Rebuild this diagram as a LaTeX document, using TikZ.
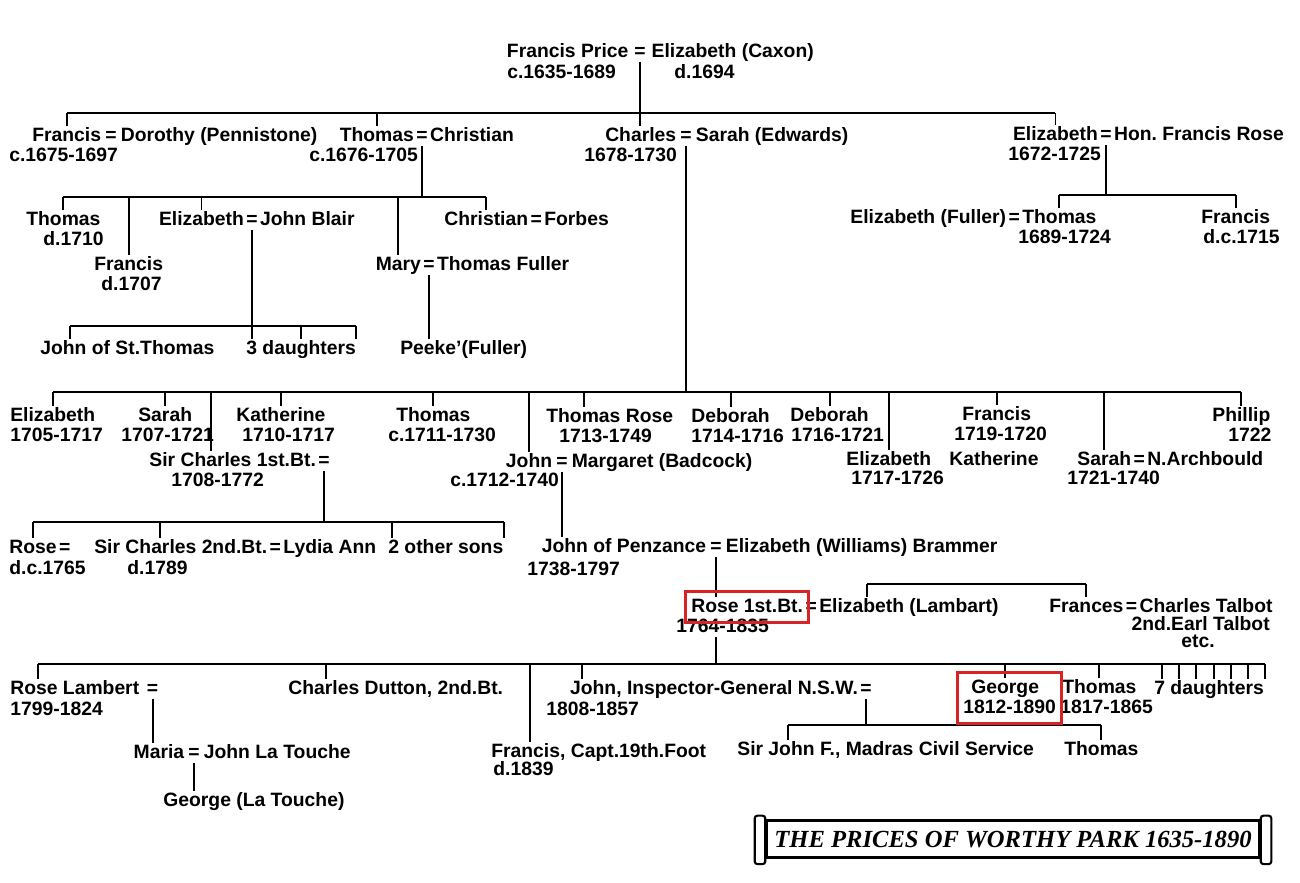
\documentclass[tikz,border=0pt]{standalone}
\usepackage{fontspec}
\setmainfont{Liberation Sans}
\newfontfamily\titlefont{Liberation Serif}
\usepackage{tikz}
\usetikzlibrary{positioning,calc,fit}
\definecolor{boxred}{RGB}{215,35,35}
\tikzset{
  pname/.style={font=\fontsize{11}{13}\selectfont\bfseries,inner sep=0pt,
                anchor=west,text height=1.6ex,text depth=0.45ex},
  eqs/.style={pname,anchor=center,inner xsep=1pt},
  bar/.style={line width=1.5pt},
  drop/.style={line width=1.1pt},
  redbox/.style={draw=boxred,line width=1.6pt,inner xsep=3pt,inner ysep=3pt},
  banner/.style={draw,line width=1.5pt,minimum width=9.86cm,minimum height=0.74cm,
                 inner sep=0pt,font=\titlefont\fontsize{14}{16}\selectfont\bfseries\itshape},
  roll/.style={draw,line width=1.2pt,fill=white,rounded corners=1.5pt},
}

\begin{document}
\begin{tikzpicture}[x=0.02cm,y=-0.02cm]
  \useasboundingbox (0,0) rectangle (1300,882);
  % Francis Price and Elizabeth (Caxon)
  \node[eqs] (fPriceEq) at (640,52) {=};
  \node[pname,left=2pt of fPriceEq] (fPrice) {Francis Price};
  \node[pname,right=2pt of fPriceEq] (eCaxon) {Elizabeth (Caxon)};
  \node[pname] (fPriceD) at (507,73) {c.1635-1689};
  \node[pname] (eCaxonD) at (674,73) {d.1694};

  % Their children
  \node[pname] (francis) at (32,136) {Francis};
  \node[eqs,right=1pt of francis] (francisEq) {=};
  \node[pname,right=1pt of francisEq] (dorothy) {Dorothy (Pennistone)};
  \node[pname] (francisD) at (9,156) {c.1675-1697};
  \node[eqs] (thomasEq) at (422,136) {=};
  \node[pname,left=0pt of thomasEq] (thomas) {Thomas};
  \node[pname,right=0pt of thomasEq] (christian) {Christian};
  \node[pname] (thomasD) at (309,156) {c.1676-1705};
  \node[eqs] (charlesEq) at (686,136) {=};
  \node[pname,left=1pt of charlesEq] (charles) {Charles};
  \node[pname,right=1pt of charlesEq] (sarahE) {Sarah (Edwards)};
  \node[pname] (charlesD) at (584,156) {1678-1730};
  \node[eqs] (elizEq) at (1106,135) {=};
  \node[pname,left=0pt of elizEq] (eliz) {Elizabeth};
  \node[pname,right=0pt of elizEq] (hfRose) {Hon.\ Francis Rose};
  \node[pname] (elizD) at (1008,155) {1672-1725};

  % Children of Thomas
  \node[pname] (thomasT) at (26,220) {Thomas};
  \node[pname] (thomasTD) at (43,240) {d.1710};
  \node[pname] (francisT) at (94,265) {Francis};
  \node[pname] (francisTD) at (101,285) {d.1707};
  \node[eqs] (elizTEq) at (252,220) {=};
  \node[pname,left=0pt of elizTEq] (elizT) {Elizabeth};
  \node[pname,right=0pt of elizTEq] (jBlair) {John Blair};
  \node[eqs] (maryTEq) at (429,265) {=};
  \node[pname,left=0pt of maryTEq] (maryT) {Mary};
  \node[pname,right=0pt of maryTEq] (tFuller) {Thomas Fuller};
  \node[pname] (christianT) at (444,220) {Christian};
  \node[eqs,right=0pt of christianT] (christianTEq) {=};
  \node[pname,right=0pt of christianTEq] (forbes) {Forbes};
  \node[pname] (johnStT) at (40,349) {John of St.Thomas};
  \node[pname] (daughtersB) at (246,349) {3 daughters};
  \node[pname] (peeke) at (400,349) {Peeke'(Fuller)};

  % Children of Elizabeth and Francis Rose
  \node[pname] (thomasR) at (1022,218) {Thomas};
  \node[eqs,left=0pt of thomasR] (elizFullerEq) {=};
  \node[pname,left=0pt of elizFullerEq] (elizFuller) {Elizabeth (Fuller)};
  \node[pname] (thomasRD) at (1018,238) {1689-1724};
  \node[pname] (francisR) at (1201,218) {Francis};
  \node[pname] (francisRD) at (1203,238) {d.c.1715};

  % Children of Charles
  \node[pname] (elizC) at (10,416) {Elizabeth};
  \node[pname] (elizCD) at (10,436) {1705-1717};
  \node[pname] (sarahC) at (138,416) {Sarah};
  \node[pname] (sarahCD) at (121,436) {1707-1721};
  \node[pname] (kathC) at (236,416) {Katherine};
  \node[pname] (kathCD) at (242,436) {1710-1717};
  \node[pname] (thomasC) at (396,416) {Thomas};
  \node[pname] (thomasCD) at (388,436) {c.1711-1730};
  \node[pname] (thomasRoseC) at (546,417) {Thomas Rose};
  \node[pname] (thomasRoseCD) at (559,437) {1713-1749};
  \node[pname] (deborahC) at (691,417) {Deborah};
  \node[pname] (deborahCD) at (691,437) {1714-1716};
  \node[pname] (deborahC2) at (790,416) {Deborah};
  \node[pname] (deborahC2D) at (791,436) {1716-1721};
  \node[pname] (francisC) at (962,415) {Francis};
  \node[pname] (francisCD) at (954,435) {1719-1720};
  \node[pname] (phillipC) at (1212,416) {Phillip};
  \node[pname] (phillipCD) at (1228,436) {1722};
  \node[eqs] (sirCharles1Eq) at (324,461) {=};
  \node[pname,left=0pt of sirCharles1Eq] (sirCharles1) {Sir Charles 1st.Bt.};
  \node[pname] (sirCharles1D) at (171,481) {1708-1772};
  \node[eqs] (johnCEq) at (562,462) {=};
  \node[pname,left=1pt of johnCEq] (johnC) {John};
  \node[pname,right=1pt of johnCEq] (margaret) {Margaret (Badcock)};
  \node[pname] (johnCD) at (450,481) {c.1712-1740};
  \node[pname] (elizC2) at (846,460) {Elizabeth};
  \node[pname] (kathC2) at (949,460) {Katherine};
  \node[pname] (elizC2D) at (851,479) {1717-1726};
  \node[pname] (sarahC2) at (1077,460) {Sarah};
  \node[eqs,right=0pt of sarahC2] (sarahC2Eq) {=};
  \node[pname,right=0pt of sarahC2Eq] (archbould) {N.Archbould};
  \node[pname] (sarahC2D) at (1067,479) {1721-1740};

  % Children of Sir Charles 1st.Bt.
  \node[pname] (roseS) at (9,548) {Rose};
  \node[eqs,right=0pt of roseS] (roseSEq) {=};
  \node[pname] (roseSD) at (9,569) {d.c.1765};
  \node[pname] (sirCharles2) at (94,548) {Sir Charles 2nd.Bt.};
  \node[eqs,right=0pt of sirCharles2] (sirCharles2Eq) {=};
  \node[pname,right=0pt of sirCharles2Eq] (lydia) {Lydia Ann};
  \node[pname] (sirCharles2D) at (127,569) {d.1789};
  \node[pname] (otherSons) at (388,548) {2 other sons};

  % John of Penzance and his son Rose
  \node[eqs] (johnPEq) at (716,547) {=};
  \node[pname,left=1pt of johnPEq] (johnP) {John of Penzance};
  \node[pname,right=1pt of johnPEq] (elizBrammer) {Elizabeth (Williams) Brammer};
  \node[pname] (johnPD) at (527,570) {1738-1797};
  \node[pname] (rose1) at (691,607) {Rose 1st.Bt.};
  \node[eqs,right=0pt of rose1] (rose1Eq) {=};
  \node[pname,right=0pt of rose1Eq] (elizLambart) {Elizabeth (Lambart)};
  \node[pname] (rose1D) at (676,627) {1764-1835};
  \node[pname] (frances) at (1049,607) {Frances};
  \node[eqs,right=0pt of frances] (francesEq) {=};
  \node[pname,right=0pt of francesEq] (cTalbot) {Charles Talbot};
  \node[pname,anchor=east] (talbotEarl) at (1270,625) {2nd.Earl Talbot};
  \node[pname] (talbotEtc) at (1181,642) {etc.};

  % Children of Rose 1st.Bt.
  \node[pname] (roseL) at (10,689) {Rose Lambert};
  \node[eqs,right=3pt of roseL] (roseLEq) {=};
  \node[pname] (roseLD) at (10,710) {1799-1824};
  \node[pname] (cDutton) at (288,689) {Charles Dutton, 2nd.Bt.};
  \node[pname] (francisCapt) at (491,752) {Francis, Capt.19th.Foot};
  \node[pname] (francisCaptD) at (493,770) {d.1839};
  \node[eqs] (johnIGEq) at (866,689) {=};
  \node[pname,left=0pt of johnIGEq] (johnIG) {John, Inspector-General N.S.W.};
  \node[pname] (johnIGD) at (546,710) {1808-1857};
  \node[pname] (george) at (971,688) {George};
  \node[pname] (georgeD) at (963,708) {1812-1890};
  \node[pname] (thomasR2) at (1062,688) {Thomas};
  \node[pname] (thomasR2D) at (1060,708) {1817-1865};
  \node[pname] (daughtersR) at (1154,689) {7 daughters};
  \node[eqs] (mariaEq) at (194,753) {=};
  \node[pname,left=1pt of mariaEq] (maria) {Maria};
  \node[pname,right=1pt of mariaEq] (laTouche) {John La Touche};
  \node[pname] (gLaTouche) at (163,801) {George (La Touche)};
  \node[pname] (sirJohnF) at (737,750) {Sir John F., Madras Civil Service};
  \node[pname] (thomasIG) at (1064,750) {Thomas};

  % Lines from Francis Price
  \coordinate (jA) at (fPriceEq.south |- 0,113);
  \draw[drop] (fPriceEq.south) -- (jA) -- (jA |- charles.north);
  \draw[bar] (francis.north |- jA) -- (eliz.north |- jA);
  \foreach \n in {francis,thomas,eliz}
    \draw[drop] (\n.north |- jA) -- (\n.north);

  % Lines from Thomas
  \coordinate (jB) at (thomasEq.south |- 0,197);
  \draw[drop] (thomasEq.south) -- (jB);
  \draw[bar] (thomasT.north |- jB) -- (christianT.north |- jB);
  \foreach \n in {thomasT,francisT,elizT,maryT,christianT}
    \draw[drop] (\n.north |- jB) -- (\n.north);
  \coordinate (johnStTTop) at ($(johnStT.north west)+(30,0)$);
  \coordinate (jE) at (elizTEq.south |- 0,326);
  \draw[drop] (elizTEq.south) -- (elizTEq.south |- daughtersB.north);
  \draw[bar] (johnStTTop |- jE) -- (daughtersB.north east |- jE);
  \foreach \n in {johnStTTop,daughtersB.north,daughtersB.north east}
    \draw[drop] (\n |- jE) -- (\n);
  \draw[drop] (maryTEq.south) -- (maryTEq.south |- peeke.north);

  % Lines from Elizabeth and Francis Rose
  \coordinate (jD) at (elizEq.south |- 0,195);
  \draw[drop] (elizEq.south) -- (jD);
  \draw[bar] (thomasR.north |- jD) -- (francisR.north |- jD);
  \foreach \n in {thomasR,francisR}
    \draw[drop] (\n.north |- jD) -- (\n.north);

  % Lines from Charles
  \coordinate (jC) at (charlesEq.south |- 0,392);
  \draw[drop] (charlesEq.south) -- (jC);
  \coordinate (sirCharles1Top) at ($(sirCharles1.north west)+(62,0)$);
  \coordinate (thomasRoseTop) at ($(thomasRoseC.north west)+(38,0)$);
  \draw[bar] (elizC.north |- jC) -- (phillipC.north |- jC);
  \foreach \n in {elizC.north,sarahC.north,sirCharles1Top,kathC.north,thomasC.north,
                  johnC.north,thomasRoseTop,deborahC.north,deborahC2.north,
                  elizC2.north,francisC.north,sarahC2.north,phillipC.north}
    \draw[drop] (\n |- jC) -- (\n);

  % Lines from Sir Charles 1st.Bt.
  \coordinate (jF) at (sirCharles1Eq.south |- 0,522);
  \draw[drop] (sirCharles1Eq.south) -- (jF);
  \coordinate (sirCharles2Top) at ($(sirCharles2.north west)+(66,0)$);
  \coordinate (otherSonsTop) at ($(otherSons.north west)+(4,0)$);
  \draw[bar] (roseS.north |- jF) -- (otherSons.north east |- jF);
  \foreach \n in {roseS.north,sirCharles2Top,otherSonsTop,otherSons.north east}
    \draw[drop] (\n |- jF) -- (\n);

  % John, John of Penzance, Rose 1st.Bt.
  \draw[drop] (johnCEq.south) -- (johnCEq.south |- johnP.north);
  \draw[drop] (johnPEq.south) -- (johnPEq.south |- rose1.north);
  \coordinate (elizLambartTop) at ($(elizLambart.north west)+(48,0)$);
  \coordinate (jG) at (elizLambartTop |- 0,584);
  \draw[bar] (jG) -- (frances.north |- jG);
  \foreach \n in {elizLambartTop,frances.north}
    \draw[drop] (\n |- jG) -- (\n);

  % Lines from Rose 1st.Bt.
  \coordinate (jH) at (johnPEq.south |- 0,664);
  \draw[drop] (jH |- rose1D.south) -- (jH);
  \coordinate (roseLTop) at ($(roseL.north west)+(28,0)$);
  \coordinate (cDuttonTop) at ($(cDutton.north west)+(38,0)$);
  \coordinate (francisCaptTop) at ($(francisCapt.north west)+(39,0)$);
  \coordinate (johnIGTop) at ($(johnIG.north west)+(12,0)$);
  \foreach \i in {0,...,6}
    \coordinate (dau\i) at ($(daughtersR.north west)+(8+17.2*\i,0)$);
  \draw[bar] (roseLTop |- jH) -- (dau6 |- jH);
  \foreach \n in {roseLTop,cDuttonTop,francisCaptTop,johnIGTop,george.north,
                  thomasR2.north,dau0,dau1,dau2,dau3,dau4,dau5,dau6}
    \draw[drop] (\n |- jH) -- (\n);
  \draw[drop] (roseLEq.south) -- (roseLEq.south |- maria.north);
  \draw[drop] (mariaEq.south) -- (mariaEq.south |- gLaTouche.north);
  \coordinate (jI) at (johnIGEq.south |- 0,725);
  \draw[drop] (johnIGEq.south) -- (jI);
  \coordinate (sirJohnTop) at ($(sirJohnF.north west)+(51,0)$);
  \draw[bar] (sirJohnTop |- jI) -- (thomasIG.north |- jI);
  \foreach \n in {sirJohnTop,thomasIG.north}
    \draw[drop] (\n |- jI) -- (\n);

  % Highlight boxes
  \node[redbox,fit=(rose1)] (rose1Box) {};
  \node[redbox,fit=(george)(georgeD)] (georgeBox) {};

  % Title banner
  \node[banner] (title) at (1013,839) {THE PRICES OF WORTHY PARK 1635-1890};
  \draw[roll] ([xshift=-6pt,yshift=2pt]title.north west) rectangle ([yshift=-3pt]title.south west);
  \draw[roll] ([yshift=2pt]title.north east) rectangle ([xshift=6pt,yshift=-3pt]title.south east);
\end{tikzpicture}
\end{document}
